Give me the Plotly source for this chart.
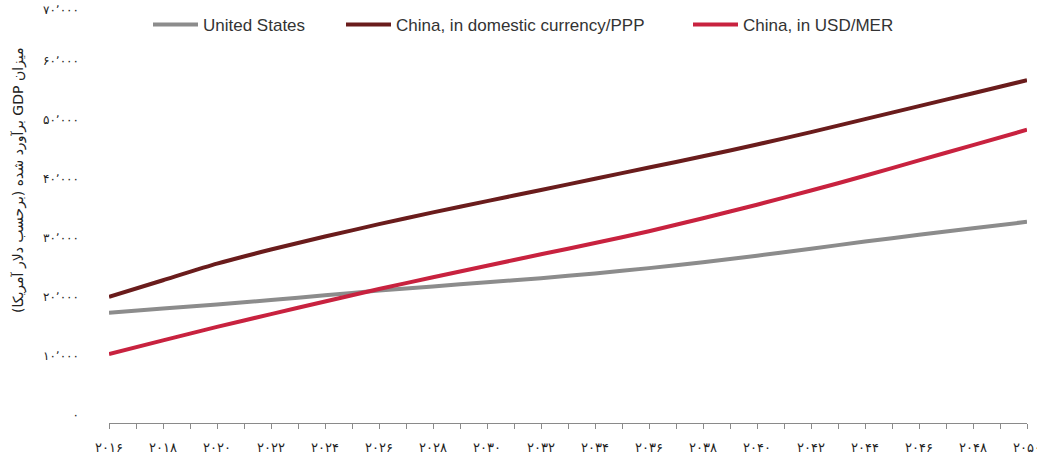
import plotly.graph_objects as go

# Projected GDP, billions of US dollars (2016 constant prices), every second year
years = [2016, 2018, 2020, 2022, 2024, 2026, 2028, 2030, 2032, 2034,
         2036, 2038, 2040, 2042, 2044, 2046, 2048, 2050]
us_gdp = [18700, 19400, 20100, 20850, 21650, 22450, 23150, 23850, 24550, 25350,
          26250, 27250, 28350, 29550, 30750, 31900, 33000, 34100]
china_ppp = [21400, 24200, 27000, 29400, 31600, 33700, 35700, 37600, 39500, 41400,
             43300, 45200, 47200, 49300, 51500, 53700, 55900, 58100]
china_mer = [11700, 14000, 16300, 18450, 20600, 22700, 24700, 26650, 28600, 30500,
             32500, 34700, 37000, 39400, 41900, 44500, 47100, 49700]

series_names = ["United States", "China, in domestic currency/PPP", "China, in USD/MER"]
series_colors = ["#8c8c8c", "#6a1c1c", "#c8223f"]

x_tick_years = years
x_tick_labels = ["۲۰۱۶", "۲۰۱۸", "۲۰۲۰", "۲۰۲۲", "۲۰۲۴", "۲۰۲۶", "۲۰۲۸", "۲۰۳۰", "۲۰۳۲",
                 "۲۰۳۴", "۲۰۳۶", "۲۰۳۸", "۲۰۴۰", "۲۰۴۲", "۲۰۴۴", "۲۰۴۶", "۲۰۴۸", "۲۰۵۰"]
y_tick_values = [0, 10000, 20000, 30000, 40000, 50000, 60000, 70000]
y_tick_labels = ["۰", "۱۰٬۰۰۰", "۲۰٬۰۰۰", "۳۰٬۰۰۰", "۴۰٬۰۰۰", "۵۰٬۰۰۰", "۶۰٬۰۰۰", "۷۰٬۰۰۰"]
y_title = "میزان GDP برآورد شده (برحسب دلار آمریکا)"

W, H = 1037, 456
M_L, M_R, M_T, M_B = 109, 10, 10, 33
plot_w = W - M_L - M_R
plot_h = H - M_T - M_B

# value labels sit a little above their gridline; an empty second line lifts them
# (the top one stays in place so it is not cut off by the page edge)
y_tick_text = [t + "<br> " for t in y_tick_labels[:-1]] + [y_tick_labels[-1]]

fig = go.Figure()
legend_ids = ["legend", "legend2", "legend3"]
for name, vals, color, lg in zip(series_names, [us_gdp, china_ppp, china_mer],
                                 series_colors, legend_ids):
    fig.add_trace(go.Scatter(
        x=years, y=vals, mode="lines", name=name, legend=lg,
        line=dict(color=color, width=4, shape="spline", smoothing=0.5),
    ))

legend_font = dict(family="Liberation Sans, Arial, sans-serif", size=17, color="#333333")
legend_left_px = [148, 341, 688]
legend_layout = {}
for lg, px in zip(legend_ids, legend_left_px):
    legend_layout[lg] = dict(
        x=(px - M_L) / plot_w, y=(H - M_B - 25) / plot_h,
        xanchor="left", yanchor="middle", orientation="h",
        bgcolor="rgba(0,0,0,0)", font=legend_font, itemwidth=45,
    )

fig.update_layout(
    width=W, height=H,
    margin=dict(l=M_L, r=M_R, t=M_T, b=M_B, autoexpand=False),
    paper_bgcolor="white", plot_bgcolor="white",
    showlegend=True,
    **legend_layout,
    xaxis=dict(
        range=[2016, 2050], tickmode="array", tickvals=x_tick_years, ticktext=x_tick_labels,
        showgrid=False, zeroline=False, showline=True, linecolor="#8a8a8a", linewidth=1,
        ticks="outside", ticklen=5, tickcolor="#8a8a8a", tickwidth=1,
        minor=dict(dtick=1, tick0=2016, ticks="outside", ticklen=5, tickcolor="#8a8a8a",
                   tickwidth=1, showgrid=False),
        tickfont=dict(family="DejaVu Sans, sans-serif", size=13, color="#222222"),
        ticklabelstandoff=7, automargin=False, ticklabeloverflow="allow",
    ),
    yaxis=dict(
        range=[0, 70000], tickmode="array", tickvals=y_tick_values, ticktext=y_tick_text,
        showgrid=False, zeroline=False, showline=False, ticks="",
        tickfont=dict(family="DejaVu Sans, sans-serif", size=12, color="#222222"),
        ticklabelstandoff=29, automargin=False, ticklabeloverflow="allow",
    ),
    annotations=[dict(
        text="\u202b" + y_title + "\u202c", xref="paper", yref="paper",
        x=(18 - M_L) / plot_w, y=(H - M_B - 180) / plot_h,
        xanchor="center", yanchor="middle", textangle=-90, showarrow=False,
        font=dict(family="DejaVu Sans, sans-serif", size=14, color="#222222"),
    )],
)

fig.write_html("out.html")
